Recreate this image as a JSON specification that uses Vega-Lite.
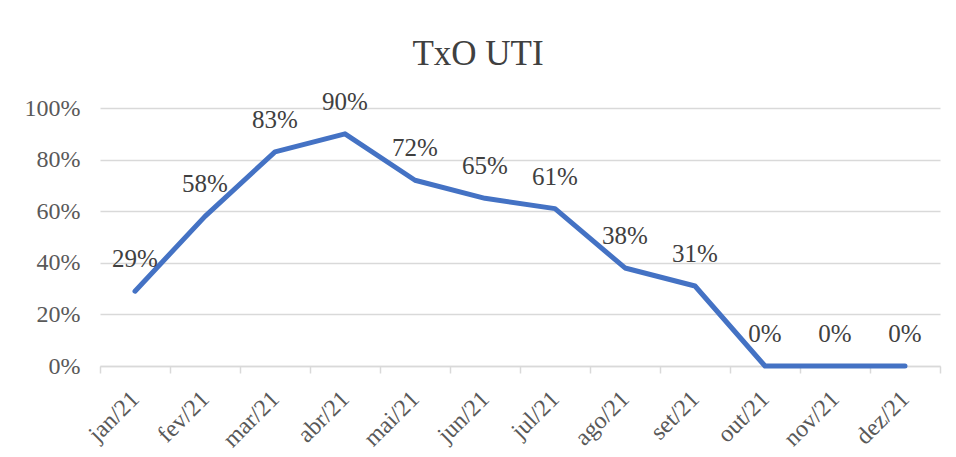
{
  "$schema": "https://vega.github.io/schema/vega-lite/v6.json",
  "width": 840,
  "height": 258,
  "autosize": {"type": "none"},
  "padding": {"left": 100, "top": 108, "right": 16, "bottom": 91},
  "background": "white",
  "title": {
    "text": "TxO UTI",
    "font": "Liberation Serif",
    "fontSize": 35,
    "fontWeight": "normal",
    "color": "#404040",
    "anchor": "middle",
    "dx": -42,
    "offset": 18
  },
  "config": {
    "view": {"stroke": null},
    "font": "Liberation Serif"
  },
  "data": {
    "values": [
      {"mes": "jan/21", "taxa": 0.29},
      {"mes": "fev/21", "taxa": 0.58},
      {"mes": "mar/21", "taxa": 0.83},
      {"mes": "abr/21", "taxa": 0.90},
      {"mes": "mai/21", "taxa": 0.72},
      {"mes": "jun/21", "taxa": 0.65},
      {"mes": "jul/21", "taxa": 0.61},
      {"mes": "ago/21", "taxa": 0.38},
      {"mes": "set/21", "taxa": 0.31},
      {"mes": "out/21", "taxa": 0.0},
      {"mes": "nov/21", "taxa": 0.0},
      {"mes": "dez/21", "taxa": 0.0}
    ]
  },
  "encoding": {
    "x": {
      "field": "mes",
      "type": "ordinal",
      "sort": null,
      "scale": {"type": "band", "paddingInner": 0, "paddingOuter": 0},
      "axis": {
        "title": null,
        "labelAngle": -45,
        "labelAlign": "right",
        "labelBaseline": "middle",
        "labelFont": "Liberation Serif",
        "labelFontSize": 24,
        "labelColor": "#595959",
        "labelPadding": 22,
        "domainColor": "#d9d9d9",
        "domainWidth": 1.5,
        "ticks": true,
        "tickBand": "extent",
        "tickColor": "#d9d9d9",
        "tickWidth": 1.5,
        "tickSize": 7,
        "grid": false
      }
    },
    "y": {
      "field": "taxa",
      "type": "quantitative",
      "scale": {"domain": [0, 1]},
      "axis": {
        "title": null,
        "format": ".0%",
        "values": [0, 0.2, 0.4, 0.6, 0.8, 1],
        "labelFont": "Liberation Serif",
        "labelFontSize": 24,
        "labelColor": "#595959",
        "labelPadding": 20,
        "domain": false,
        "ticks": false,
        "gridColor": "#d9d9d9",
        "gridWidth": 1.5
      }
    }
  },
  "layer": [
    {
      "mark": {"type": "line", "color": "#4472C4", "strokeWidth": 5, "strokeCap": "round", "strokeJoin": "round"}
    },
    {
      "mark": {"type": "text", "font": "Liberation Serif", "fontSize": 25, "color": "#404040", "baseline": "middle", "align": "center", "dy": -32},
      "encoding": {
        "text": {"field": "taxa", "type": "quantitative", "format": ".0%"}
      }
    }
  ]
}
